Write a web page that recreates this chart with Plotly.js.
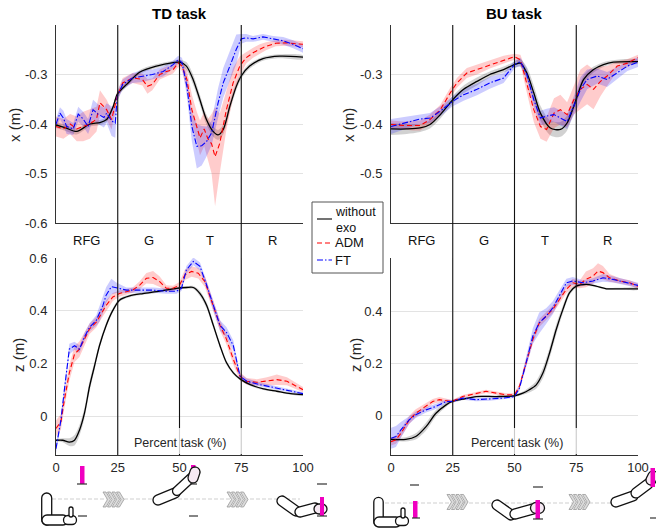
<!DOCTYPE html>
<html>
<head>
<meta charset="utf-8">
<script src="https://cdn.plot.ly/plotly-3.0.1.min.js"></script>
<style>html,body{margin:0;padding:0;background:#fff;}#chart{width:656px;height:529px;}</style>
</head>
<body>
<div id="chart"></div>
<script>
// ---------------- DATA ----------------
const phaseBounds = [0, 25, 50, 75, 100];
const phaseLabels = ['RFG', 'G', 'T', 'R'];
const xTickVals = [0, 25, 50, 75, 100];
const xTickText = ['0', '25', '50', '75', '100'];
const seriesNames = ['without exo', 'ADM', 'FT'];
const panelTitles = ['TD task', 'BU task'];

// TD task, x (m)
const tdX_noexo_t = [0,4,8.4,13.7,17.8,20.5,23.2,24.8,28.6,34,40.7,47.4,50,52.8,55.5,58.2,60.9,63.6,65.6,67.7,70.4,73,75,78.4,83.8,90.6,100];
const tdX_noexo_m = [-0.402,-0.408,-0.415,-0.40,-0.397,-0.391,-0.364,-0.34,-0.32,-0.295,-0.283,-0.276,-0.275,-0.283,-0.31,-0.35,-0.391,-0.415,-0.422,-0.411,-0.364,-0.324,-0.303,-0.283,-0.268,-0.263,-0.265];
const tdX_noexo_s = [0.006,0.006,0.006,0.005,0.005,0.005,0.005,0.005,0.005,0.004,0.004,0.004,0.005,0.008,0.01,0.01,0.01,0.01,0.01,0.01,0.01,0.008,0.006,0.005,0.004,0.004,0.004];

const tdX_adm_t = [0,3,5.7,8.4,11,13.7,16.4,17.8,20.5,22.5,24.8,27,31,35,37,39,42,44.7,47.4,49.5,51,53,55,57,58.3,60,61.5,63,64.4,66.3,69,71.7,74.4,77,79.8,82.5,85,89,93,100];
const tdX_adm_m = [-0.405,-0.41,-0.40,-0.41,-0.405,-0.40,-0.39,-0.357,-0.371,-0.391,-0.344,-0.317,-0.307,-0.31,-0.324,-0.32,-0.30,-0.294,-0.29,-0.277,-0.283,-0.31,-0.371,-0.405,-0.428,-0.41,-0.43,-0.44,-0.466,-0.439,-0.371,-0.317,-0.283,-0.266,-0.256,-0.249,-0.243,-0.237,-0.236,-0.239];
const tdX_adm_s = [0.02,0.02,0.02,0.025,0.03,0.03,0.025,0.025,0.02,0.02,0.01,0.01,0.01,0.012,0.015,0.012,0.01,0.01,0.008,0.008,0.01,0.02,0.03,0.03,0.035,0.035,0.04,0.06,0.1,0.06,0.04,0.03,0.02,0.012,0.01,0.01,0.008,0.006,0.006,0.006];

const tdX_ft_t = [0,1.6,3,4.3,7,9,11,13,15,17,19.4,20.5,22.5,24,24.8,27,31,35,39,43.4,47.4,49.5,51,53,55,57,59,61,63,65.6,67.7,70.4,73,75,77,79.8,83.8,87.9,92,96,100];
const tdX_ft_m = [-0.40,-0.378,-0.388,-0.405,-0.41,-0.38,-0.39,-0.405,-0.371,-0.38,-0.387,-0.378,-0.394,-0.398,-0.344,-0.32,-0.307,-0.303,-0.30,-0.294,-0.28,-0.27,-0.276,-0.324,-0.405,-0.445,-0.444,-0.435,-0.418,-0.358,-0.317,-0.283,-0.249,-0.228,-0.226,-0.228,-0.224,-0.228,-0.232,-0.239,-0.248];
const tdX_ft_s = [0.01,0.012,0.015,0.015,0.012,0.015,0.015,0.015,0.02,0.02,0.02,0.02,0.03,0.03,0.01,0.01,0.01,0.012,0.01,0.01,0.008,0.008,0.01,0.02,0.03,0.045,0.04,0.03,0.025,0.03,0.03,0.03,0.03,0.01,0.008,0.006,0.006,0.006,0.008,0.008,0.008];

// TD task, z (m)
const tdZ_noexo_t = [0,2.7,5.4,7.5,9.5,11.5,13.6,15.6,17.6,20.3,23,25.7,29.8,35.2,42,48.8,52.8,55.6,58.3,61,63.7,66.4,69,71.8,74.5,78.6,84,89.4,95,100];
const tdZ_noexo_m = [-0.092,-0.092,-0.099,-0.092,-0.054,0.01,0.113,0.19,0.267,0.344,0.401,0.44,0.456,0.465,0.474,0.485,0.488,0.488,0.465,0.42,0.344,0.267,0.203,0.164,0.141,0.119,0.103,0.094,0.085,0.081];
const tdZ_noexo_s = [0.005,0.008,0.015,0.02,0.02,0.02,0.02,0.015,0.012,0.01,0.008,0.006,0.005,0.005,0.005,0.005,0.005,0.006,0.01,0.012,0.012,0.01,0.008,0.006,0.005,0.005,0.004,0.004,0.004,0.004];

const tdZ_adm_t = [0,2,3.4,5.4,7.5,9.5,11.5,13.6,16.3,18.3,20.3,23,25.7,28.5,31,33.9,36.6,39.3,42,44.7,47.4,50,52.2,54.9,57.6,60.3,63.7,66.4,69,71.8,74.5,77.2,81.3,85.4,89.4,93.5,97.6,100];
const tdZ_adm_m = [-0.047,-0.022,0.062,0.164,0.235,0.254,0.292,0.331,0.356,0.388,0.42,0.452,0.465,0.472,0.478,0.497,0.523,0.526,0.51,0.485,0.485,0.497,0.536,0.549,0.542,0.51,0.42,0.344,0.292,0.215,0.151,0.132,0.128,0.132,0.138,0.132,0.113,0.10];
const tdZ_adm_s = [0.03,0.03,0.03,0.03,0.03,0.03,0.025,0.02,0.02,0.02,0.02,0.015,0.012,0.01,0.01,0.015,0.02,0.025,0.02,0.012,0.01,0.012,0.02,0.02,0.02,0.02,0.02,0.02,0.02,0.02,0.015,0.012,0.012,0.015,0.02,0.015,0.012,0.01];

const tdZ_ft_t = [0,2,3.4,5.4,7.5,9.5,11.5,13.6,16.3,17.6,19,20.3,22.4,24.4,28.5,33.9,39.3,44.7,48.8,50.8,52.8,55.6,58.3,61,63.7,66.4,69,71.8,74.5,77.2,82.7,89.4,95,100];
const tdZ_ft_m = [-0.124,-0.015,0.10,0.254,0.267,0.254,0.30,0.337,0.363,0.388,0.42,0.459,0.491,0.487,0.478,0.478,0.478,0.474,0.474,0.485,0.555,0.587,0.568,0.497,0.42,0.344,0.318,0.267,0.151,0.132,0.119,0.106,0.094,0.085];
const tdZ_ft_s = [0.015,0.02,0.02,0.02,0.015,0.015,0.015,0.015,0.02,0.03,0.03,0.03,0.03,0.02,0.01,0.01,0.01,0.01,0.01,0.01,0.015,0.015,0.015,0.015,0.02,0.02,0.02,0.02,0.01,0.01,0.008,0.006,0.005,0.005];

// BU task, x (m)
const buX_noexo_t = [0,6.4,11.8,15.8,20,25,29.4,34.8,40,45.6,50,52.4,55,57.8,60.5,64.5,68.6,71.3,74,75.4,78,82,86,90,100];
const buX_noexo_m = [-0.41,-0.41,-0.408,-0.401,-0.381,-0.351,-0.33,-0.314,-0.30,-0.29,-0.28,-0.277,-0.297,-0.337,-0.378,-0.408,-0.411,-0.398,-0.364,-0.344,-0.31,-0.29,-0.28,-0.275,-0.274];
const buX_noexo_s = [0.012,0.01,0.008,0.008,0.008,0.008,0.008,0.008,0.006,0.006,0.006,0.008,0.012,0.015,0.015,0.015,0.015,0.015,0.012,0.01,0.008,0.006,0.005,0.004,0.004];

const buX_adm_t = [0,5,9,11.8,15.8,20,24,26.7,30.7,34.8,40,45.6,50,52.4,55,57.8,60.5,63,66,68.6,71.3,74,76.7,79.4,82,84.8,87.5,91.6,95.7,100];
const buX_adm_m = [-0.401,-0.403,-0.403,-0.403,-0.391,-0.371,-0.337,-0.317,-0.297,-0.29,-0.28,-0.27,-0.264,-0.27,-0.317,-0.371,-0.405,-0.411,-0.378,-0.371,-0.381,-0.351,-0.33,-0.32,-0.33,-0.314,-0.303,-0.283,-0.277,-0.266];
const buX_adm_s = [0.008,0.008,0.01,0.01,0.01,0.01,0.01,0.01,0.01,0.01,0.008,0.008,0.006,0.01,0.02,0.025,0.025,0.025,0.03,0.03,0.025,0.03,0.04,0.04,0.04,0.03,0.02,0.01,0.008,0.006];

const buX_ft_t = [0,6.4,11.8,15.8,20,25,29.4,34.8,40,45.6,50,52.4,55,57.8,60.5,63,66,68.6,71.3,74,76.7,79.4,83.5,87.5,91.6,95.7,100];
const buX_ft_m = [-0.405,-0.397,-0.39,-0.388,-0.374,-0.354,-0.341,-0.33,-0.317,-0.307,-0.28,-0.274,-0.30,-0.351,-0.388,-0.384,-0.381,-0.388,-0.395,-0.364,-0.33,-0.31,-0.303,-0.31,-0.297,-0.283,-0.275];
const buX_ft_s = [0.015,0.012,0.01,0.01,0.01,0.01,0.012,0.012,0.012,0.01,0.008,0.008,0.012,0.015,0.015,0.015,0.015,0.015,0.015,0.02,0.025,0.02,0.015,0.015,0.012,0.01,0.01];

// BU task, z (m)
const buZ_noexo_t = [0,6,10,14.2,18.2,22.3,24.7,29,34.5,42.6,50,53.4,56,58.8,61.5,64.2,66.9,69.6,72.3,75,79,83,87.2,92.6,100];
const buZ_noexo_m = [-0.09,-0.09,-0.079,-0.041,0.01,0.042,0.055,0.064,0.074,0.074,0.077,0.087,0.10,0.119,0.164,0.241,0.331,0.408,0.472,0.497,0.504,0.497,0.487,0.487,0.487];
const buZ_noexo_s = [0.005,0.008,0.012,0.015,0.012,0.008,0.005,0.004,0.004,0.004,0.004,0.006,0.01,0.015,0.02,0.02,0.02,0.015,0.01,0.006,0.005,0.004,0.004,0.004,0.004];

const buZ_adm_t = [0,2,4,7.4,10,14.2,16.9,19.6,24.7,29,34.5,38.5,42.6,46.6,50,52,54.7,57.4,60,62.8,65.5,68.2,71,73.6,76.4,78.9,81.8,83.8,85.8,88.5,92.6,96.6,100];
const buZ_adm_m = [-0.099,-0.092,-0.067,-0.015,0.01,0.036,0.055,0.062,0.055,0.074,0.085,0.094,0.087,0.081,0.081,0.113,0.203,0.292,0.356,0.382,0.408,0.446,0.485,0.51,0.504,0.523,0.536,0.555,0.549,0.529,0.517,0.51,0.497];
const buZ_adm_s = [0.015,0.015,0.015,0.015,0.015,0.012,0.01,0.01,0.006,0.006,0.006,0.006,0.006,0.006,0.006,0.01,0.015,0.015,0.015,0.015,0.015,0.015,0.015,0.015,0.015,0.03,0.03,0.03,0.025,0.015,0.01,0.01,0.01];

const buZ_ft_t = [0,2,4,7.4,10,14.2,18.2,22.3,24.7,29,34.5,40,45.3,50,52,54.7,57.4,60,62.8,65.5,68.2,71,73.6,77.7,81.8,85.8,89.9,94,100];
const buZ_ft_m = [-0.086,-0.079,-0.054,-0.015,0.004,0.023,0.036,0.055,0.055,0.068,0.062,0.064,0.068,0.074,0.106,0.203,0.305,0.356,0.382,0.414,0.459,0.51,0.517,0.51,0.517,0.529,0.523,0.513,0.50];
const buZ_ft_s = [0.04,0.04,0.03,0.015,0.012,0.01,0.01,0.008,0.006,0.006,0.006,0.006,0.006,0.006,0.01,0.02,0.03,0.04,0.03,0.025,0.02,0.015,0.015,0.01,0.01,0.015,0.012,0.012,0.01];

// Y-axis ticks
const xPosTicksTD = [-0.6, -0.5, -0.4, -0.3];
const xPosTicksTDText = ['-0.6', '-0.5', '-0.4', '-0.3'];
const xPosTicksBU = [-0.5, -0.4, -0.3];
const xPosTicksBUText = ['-0.5', '-0.4', '-0.3'];
const zPosTicksTD = [0, 0.2, 0.4, 0.6];
const zPosTicksTDText = ['0', '0.2', '0.4', '0.6'];
const zPosTicksBU = [0, 0.2, 0.4];
const zPosTicksBUText = ['0', '0.2', '0.4'];

// ---------------- STYLE / BUILD ----------------
const W = 656, H = 529;
const FONT = 'Liberation Sans, Arial, Helvetica, sans-serif';
const px = v => v / W;
const py = v => 1 - v / H;

const styles = [
  {line: '#000000', band: 'rgba(0,0,0,0.18)', dash: 'solid', width: 1.3, shape: 'spline'},
  {line: '#ff0000', band: 'rgba(255,0,0,0.2)', dash: '5px,3px', width: 1.1, shape: 'linear'},
  {line: '#0000ff', band: 'rgba(0,0,255,0.2)', dash: '6px,2px,1.5px,2px', width: 1.1, shape: 'linear'}
];

const panels = [
  {xa: 'x',  ya: 'y',  series: [[tdX_noexo_t, tdX_noexo_m, tdX_noexo_s], [tdX_adm_t, tdX_adm_m, tdX_adm_s], [tdX_ft_t, tdX_ft_m, tdX_ft_s]]},
  {xa: 'x2', ya: 'y2', series: [[tdZ_noexo_t, tdZ_noexo_m, tdZ_noexo_s], [tdZ_adm_t, tdZ_adm_m, tdZ_adm_s], [tdZ_ft_t, tdZ_ft_m, tdZ_ft_s]]},
  {xa: 'x3', ya: 'y3', series: [[buX_noexo_t, buX_noexo_m, buX_noexo_s], [buX_adm_t, buX_adm_m, buX_adm_s], [buX_ft_t, buX_ft_m, buX_ft_s]]},
  {xa: 'x4', ya: 'y4', series: [[buZ_noexo_t, buZ_noexo_m, buZ_noexo_s], [buZ_adm_t, buZ_adm_m, buZ_adm_s], [buZ_ft_t, buZ_ft_m, buZ_ft_s]]}
];

const traces = [];
panels.forEach(p => {
  p.series.forEach((s, i) => {
    const [t, m, sd] = s;
    const up = m.map((v, k) => v + sd[k]);
    const lo = m.map((v, k) => v - sd[k]);
    traces.push({
      x: t.concat(t.slice().reverse()),
      y: up.concat(lo.slice().reverse()),
      xaxis: p.xa, yaxis: p.ya, type: 'scatter', mode: 'lines',
      fill: 'toself', fillcolor: styles[i].band,
      line: {width: 0, color: 'rgba(0,0,0,0)', shape: styles[i].shape, smoothing: 0.8},
      hoverinfo: 'skip', showlegend: false
    });
  });
  p.series.forEach((s, i) => {
    traces.push({
      x: s[0], y: s[1], name: seriesNames[i],
      xaxis: p.xa, yaxis: p.ya, type: 'scatter', mode: 'lines',
      line: {color: styles[i].line, width: styles[i].width, dash: styles[i].dash, shape: styles[i].shape, smoothing: 0.8},
      showlegend: false
    });
  });
});

const tickFont = {family: FONT, size: 13, color: '#262626'};
function xAx(dom, anchor, labels) {
  return {domain: dom, anchor: anchor, range: [0, 100], tickvals: xTickVals, ticktext: xTickText,
    showticklabels: labels, showgrid: true, gridcolor: '#e3e3e3', gridwidth: 1, zeroline: false,
    showline: true, linecolor: '#333', linewidth: 1, ticks: '', tickfont: tickFont, automargin: false};
}
function yAx(dom, anchor, range, vals, text) {
  return {domain: dom, anchor: anchor, range: range, tickvals: vals, ticktext: text,
    showgrid: true, gridcolor: '#e3e3e3', gridwidth: 1, zeroline: false,
    showline: true, linecolor: '#333', linewidth: 1, ticks: '', tickfont: tickFont,
    ticklabelstandoff: 5, automargin: false};
}

const xDomL = [px(56), px(303)];
const xDomR = [px(391), px(638)];
const yDomT = [py(223), py(25)];
const yDomB = [py(455), py(258)];

const shapes = [];
const annotations = [];

// phase boundary lines & labels
[['x', 0], ['x3', 1]].forEach(([xr]) => {
  phaseBounds.slice(1, -1).forEach(b => {
    shapes.push({type: 'line', xref: xr, yref: 'paper', x0: b, x1: b, y0: py(455), y1: py(25),
      line: {color: '#111', width: 1.1}});
  });
  phaseLabels.forEach((lab, i) => {
    annotations.push({xref: xr, yref: 'paper', x: (phaseBounds[i] + phaseBounds[i + 1]) / 2, y: py(240),
      text: lab, showarrow: false, font: {family: FONT, size: 13, color: '#111'}, xanchor: 'center', yanchor: 'middle'});
  });
});
// faded label background
shapes.push({type: 'rect', xref: 'paper', yref: 'paper', x0: px(121), x1: px(246), y0: py(454), y1: py(428),
  fillcolor: 'rgba(255,255,255,0.78)', line: {width: 0}});
shapes.push({type: 'rect', xref: 'paper', yref: 'paper', x0: px(456), x1: px(581), y0: py(454), y1: py(428),
  fillcolor: 'rgba(255,255,255,0.78)', line: {width: 0}});

// titles
annotations.push({xref: 'paper', yref: 'paper', x: px(179), y: py(13), text: '<b>' + panelTitles[0] + '</b>', showarrow: false,
  font: {family: FONT, size: 15, color: '#000'}, xanchor: 'center', yanchor: 'middle'});
annotations.push({xref: 'paper', yref: 'paper', x: px(514), y: py(13), text: '<b>' + panelTitles[1] + '</b>', showarrow: false,
  font: {family: FONT, size: 15, color: '#000'}, xanchor: 'center', yanchor: 'middle'});
// axis titles
[[14, 125, 'x (m)'], [18, 355, 'z (m)'], [348, 125, 'x (m)'], [355, 355, 'z (m)']].forEach(a => {
  annotations.push({xref: 'paper', yref: 'paper', x: px(a[0]), y: py(a[1]), text: a[2], textangle: -90, showarrow: false,
    font: {family: FONT, size: 15, color: '#262626'}, xanchor: 'center', yanchor: 'middle'});
});
[[180, 443], [517, 443]].forEach(a => {
  annotations.push({xref: 'paper', yref: 'paper', x: px(a[0]), y: py(a[1]), text: 'Percent task (%)', showarrow: false,
    font: {family: FONT, size: 12.5, color: '#262626'}, xanchor: 'center', yanchor: 'middle'});
});

// manual legend
shapes.push({type: 'rect', xref: 'paper', yref: 'paper', x0: px(312), x1: px(383), y0: py(273), y1: py(202),
  fillcolor: '#fff', line: {color: '#555', width: 1}});
const legRows = [219, 243, 260];
legRows.forEach((yy, i) => {
  shapes.push({type: 'line', xref: 'paper', yref: 'paper', x0: px(317), x1: px(332), y0: py(yy), y1: py(yy),
    line: {color: styles[i].line, width: 1.1, dash: styles[i].dash}});
});
[['without<br>exo', 220, 12.5], [seriesNames[1], 243, 13], [seriesNames[2], 260, 13]].forEach(r => {
  annotations.push({xref: 'paper', yref: 'paper', x: px(334), y: py(r[1]), text: r[0], showarrow: false,
    font: {family: FONT, size: r[2], color: '#111'}, xanchor: 'left', yanchor: 'middle', align: 'left', borderpad: 0});
});

// ---------- icons (decorative drawings) ----------
function pt(x, y) { return px(x).toFixed(5) + ',' + py(y).toFixed(5); }
function capsule(x1, y1, x2, y2, r) {
  const L = Math.hypot(x2 - x1, y2 - y1), ux = (x2 - x1) / L, uy = (y2 - y1) / L, nx = -uy, ny = ux, k = 0.5523;
  const A = [x1 + nx * r, y1 + ny * r], B = [x2 + nx * r, y2 + ny * r], C = [x2 - nx * r, y2 - ny * r], D = [x1 - nx * r, y1 - ny * r];
  const E2 = [x2 + ux * r, y2 + uy * r], E1 = [x1 - ux * r, y1 - uy * r];
  const f = p => pt(p[0], p[1]);
  return 'M' + f(A) + ' L' + f(B) +
    ' C' + f([B[0] + ux * k * r, B[1] + uy * k * r]) + ' ' + f([E2[0] + nx * k * r, E2[1] + ny * k * r]) + ' ' + f(E2) +
    ' C' + f([E2[0] - nx * k * r, E2[1] - ny * k * r]) + ' ' + f([C[0] + ux * k * r, C[1] + uy * k * r]) + ' ' + f(C) +
    ' L' + f(D) +
    ' C' + f([D[0] - ux * k * r, D[1] - uy * k * r]) + ' ' + f([E1[0] - nx * k * r, E1[1] - ny * k * r]) + ' ' + f(E1) +
    ' C' + f([E1[0] + nx * k * r, E1[1] + ny * k * r]) + ' ' + f([A[0] - ux * k * r, A[1] - uy * k * r]) + ' ' + f(A) + ' Z';
}
function addCapsule(x1, y1, x2, y2, r, fill) {
  shapes.push({type: 'path', xref: 'paper', yref: 'paper', path: capsule(x1, y1, x2, y2, r),
    fillcolor: fill || '#fff', line: {color: '#111', width: 1.3}});
}
function addRect(x0, y0, x1, y1, fill, lc, lw) {
  shapes.push({type: 'rect', xref: 'paper', yref: 'paper', x0: px(x0), x1: px(x1), y0: py(y1), y1: py(y0),
    fillcolor: fill, line: {color: lc || fill, width: lw === undefined ? 0 : lw}});
}
function addDash(x0, x1, y) {
  shapes.push({type: 'line', xref: 'paper', yref: 'paper', x0: px(x0), x1: px(x1), y0: py(y), y1: py(y),
    line: {color: '#333', width: 1.2}});
}
function addChevrons(x0, yc, h) {
  for (let i = 0; i < 4; i++) {
    const a = x0 + i * 4.5, t = 3, d = h * 0.6;
    const path = 'M' + pt(a, yc - h) + ' L' + pt(a + t, yc - h) + ' L' + pt(a + t + d, yc) + ' L' + pt(a + t, yc + h) +
      ' L' + pt(a, yc + h) + ' L' + pt(a + d, yc) + ' Z';
    shapes.push({type: 'path', xref: 'paper', yref: 'paper', path: path, fillcolor: '#dcdcdc', line: {color: '#9a9a9a', width: 0.8}});
  }
}
function addGuide(x0, x1, y) {
  shapes.push({type: 'line', xref: 'paper', yref: 'paper', x0: px(x0), x1: px(x1), y0: py(y), y1: py(y),
    line: {color: '#cfcfcf', width: 1, dash: '4px,2px'}});
}
const MAG = '#f000c0';

// Left group
addGuide(52, 300, 499);
addChevrons(103, 499.5, 7.5);
addChevrons(227, 499.5, 7.5);
// icon 1
addCapsule(46.7, 498, 46.7, 520, 5);
addCapsule(47, 520, 63, 520, 5);
addCapsule(68, 520, 72, 520, 4.5, '#fff');
addCapsule(71, 515, 71, 509, 2, '#fff');
addRect(80, 466, 84.5, 484, MAG);
addDash(77, 87, 484);
addDash(78, 87, 516);
// icon 2
addCapsule(158, 500, 175, 493, 5);
addCapsule(177, 491, 191, 478, 4.5);
addRect(191, 465, 195.5, 482, MAG);
addCapsule(193, 478, 195, 472, 5, '#f6e9f3');
addDash(190, 197, 484);
addDash(189, 198, 516);
// icon 3
addCapsule(282, 501, 296, 511, 5);
addCapsule(300, 512, 315, 508, 5);
addCapsule(319, 509, 322, 509, 5, '#f6e9f3');
addRect(320, 497, 324, 516, MAG);
addDash(317, 327, 484);
addDash(317, 327, 516);

// Right group
addGuide(385, 612, 503);
addChevrons(447, 502, 7.5);
addChevrons(569, 502, 7.5);
// icon 1
addCapsule(378.5, 502, 378.5, 522, 4.7);
addCapsule(379, 522, 396, 522, 5);
addCapsule(400, 521, 404, 521, 4.5, '#fff');
addCapsule(403, 516, 403, 510, 2, '#fff');
addRect(413, 501, 417.5, 518, MAG);
addDash(410, 419, 485);
addDash(412, 420, 518);
// icon 2
addCapsule(497, 505, 511, 515, 5);
addCapsule(515, 514, 533, 509, 5);
addCapsule(536, 508, 539, 508, 5.5, '#f6e9f3');
addRect(535.5, 500, 540, 519, MAG);
addDash(533, 543, 487);
addDash(533, 543, 519);
// icon 3
addCapsule(616, 502, 633, 496, 5);
addCapsule(636, 493, 648, 484, 5);
addCapsule(651, 480, 653, 476, 5, '#f6e9f3');
addRect(650.5, 468, 655, 487, MAG);
addDash(650, 656, 518);

const layout = {
  width: W, height: H,
  margin: {l: 0, r: 0, t: 0, b: 0},
  paper_bgcolor: '#fff', plot_bgcolor: '#fff',
  font: {family: FONT, color: '#262626'},
  showlegend: false,
  xaxis: xAx(xDomL, 'y', false),
  yaxis: yAx(yDomT, 'x', [-0.6, -0.2], xPosTicksTD, xPosTicksTDText),
  xaxis2: xAx(xDomL, 'y2', true),
  yaxis2: yAx(yDomB, 'x2', [-0.148, 0.6], zPosTicksTD, zPosTicksTDText),
  xaxis3: xAx(xDomR, 'y3', false),
  yaxis3: yAx(yDomT, 'x3', [-0.6, -0.2], xPosTicksBU, xPosTicksBUText),
  xaxis4: xAx(xDomR, 'y4', true),
  yaxis4: yAx(yDomB, 'x4', [-0.15, 0.605], zPosTicksBU, zPosTicksBUText),
  shapes: shapes,
  annotations: annotations
};

Plotly.newPlot('chart', traces, layout, {staticPlot: true, displayModeBar: false});
</script>
</body>
</html>
